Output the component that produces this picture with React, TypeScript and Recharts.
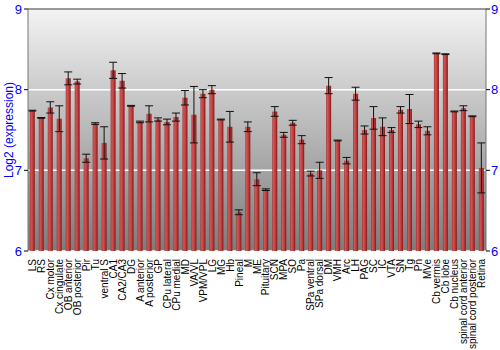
import { Bar, BarChart, CartesianGrid, ErrorBar, ReferenceLine, XAxis, YAxis } from "recharts";

const REGIONS = [
  "LS", "RS", "Cx motor", "Cx cingulate", "OB anterior", "OB posterior", "Pir", "Tu", "ventral S", "CA1",
  "CA2/CA3", "DG", "A anterior", "A posterior", "GP", "CPu lateral", "CPu medial", "MD", "VA/VL", "VPM/VPL",
  "LG", "MG", "Hb", "Pineal", "M", "ME", "Pituitary", "SCN", "MPA", "SO",
  "Pa", "SPa ventral", "SPa dorsal", "DM", "VMH", "Arc", "LH", "PAG", "SC", "IC",
  "VTA", "SN", "Tg", "Pn", "MVe", "Cb vermis", "Cb lobe", "Cb nucleus", "spinal cord anterior", "spinal cord posterior",
  "Retina",
];

const LOG2_EXPR = [
  7.74, 7.65, 7.78, 7.64, 8.14, 8.1, 7.15, 7.58, 7.34, 8.24,
  8.11, 7.8, 7.6, 7.7, 7.63, 7.6, 7.66, 7.9, 7.69, 7.95,
  8.0, 7.63, 7.54, 6.48, 7.54, 6.89, 6.76, 7.73, 7.44, 7.59,
  7.38, 6.96, 7.0, 8.05, 7.37, 7.12, 7.95, 7.5, 7.65, 7.54,
  7.5, 7.75, 7.76, 7.57, 7.49, 8.45, 8.44, 7.73, 7.77, 7.67,
  7.03,
];

const ERR = [
  0.005, 0.005, 0.07, 0.16, 0.08, 0.03, 0.05, 0.01, 0.2, 0.1,
  0.09, 0.005, 0.01, 0.1, 0.02, 0.035, 0.05, 0.09, 0.35, 0.05,
  0.05, 0.005, 0.19, 0.03, 0.06, 0.08, 0.01, 0.06, 0.03, 0.03,
  0.05, 0.03, 0.1, 0.1, 0.005, 0.04, 0.08, 0.05, 0.14, 0.11,
  0.03, 0.04, 0.18, 0.04, 0.05, 0.005, 0.005, 0.005, 0.03, 0.005,
  0.31,
];

const Y_TICKS = [6, 7, 8, 9];

const data = REGIONS.map((name, i) => ({ name, value: LOG2_EXPR[i], err: ERR[i] }));

const FONT = "'Liberation Sans', Arial, sans-serif";

function RegionTick({ x, y, payload }: any) {
  return (
    <text
      x={x}
      y={y}
      dy="0.35em"
      transform={`rotate(-90, ${x}, ${y})`}
      textAnchor="end"
      fontSize={10}
      fontFamily={FONT}
      fill="#000"
    >
      {payload.value}
    </text>
  );
}

function AxisTitle(props: any) {
  const vb = props.viewBox || { x: 0, y: 9, width: 28, height: 242 };
  const cx = 9;
  const cy = vb.y + vb.height / 2;
  return (
    <text
      x={cx}
      y={cy}
      transform={`rotate(-90, ${cx}, ${cy})`}
      textAnchor="middle"
      dominantBaseline="central"
      fontSize={12}
      fontFamily={FONT}
      fill="#0000ff"
    >
      Log2 (expression)
    </text>
  );
}

export default function App() {
  return (
    <div style={{ position: "absolute", left: 0, top: 0, background: "#fff" }}>
      <BarChart
        width={500}
        height={350}
        data={data}
        margin={{ top: 9, right: 0, left: 0, bottom: 0 }}
        barCategoryGap="20%"
      >
        <defs>
          <linearGradient id="bgGrad" x1="0" y1="0" x2="0" y2="1">
            <stop offset="0%" stopColor="#f3f3f3" />
            <stop offset="100%" stopColor="#7c7c7c" />
          </linearGradient>
          <linearGradient id="barGrad" x1="0" y1="0" x2="1" y2="0">
            <stop offset="0%" stopColor="#a83030" />
            <stop offset="25%" stopColor="#d25555" />
            <stop offset="60%" stopColor="#bf3d3d" />
            <stop offset="100%" stopColor="#7f1a1a" />
          </linearGradient>
        </defs>
        <CartesianGrid vertical={false} stroke="#ffffff" strokeWidth={1.5} fill="url(#bgGrad)" />
        <XAxis
          dataKey="name"
          interval={0}
          height={99}
          tickLine={false}
          axisLine={false}
          tick={<RegionTick />}
          tickMargin={2}
        />
        <YAxis
          domain={[6, 9]}
          ticks={Y_TICKS}
          allowDataOverflow
          width={28}
          tickSize={4}
          tickMargin={2}
          tickLine={{ stroke: "#000" }}
          axisLine={{ stroke: "#777" }}
          tick={{ fill: "#0000ff", fontSize: 13, fontFamily: FONT }}
          label={{ content: (p: any) => <AxisTitle {...p} /> }}
        />
        <YAxis
          yAxisId="right"
          orientation="right"
          domain={[6, 9]}
          ticks={Y_TICKS}
          allowDataOverflow
          width={14}
          tickSize={4}
          tickMargin={1}
          tickLine={{ stroke: "#000" }}
          axisLine={{ stroke: "#777" }}
          tick={{ fill: "#0000ff", fontSize: 13, fontFamily: FONT, textAnchor: "start" }}
        />
        <ReferenceLine y={9} stroke="#777" strokeWidth={1.5} ifOverflow="extendDomain" />
        <Bar dataKey="value" fill="url(#barGrad)" isAnimationActive={false}>
          <ErrorBar dataKey="err" width={4} stroke="#111" strokeWidth={1} direction="y" isAnimationActive={false} />
        </Bar>
      </BarChart>
    </div>
  );
}
